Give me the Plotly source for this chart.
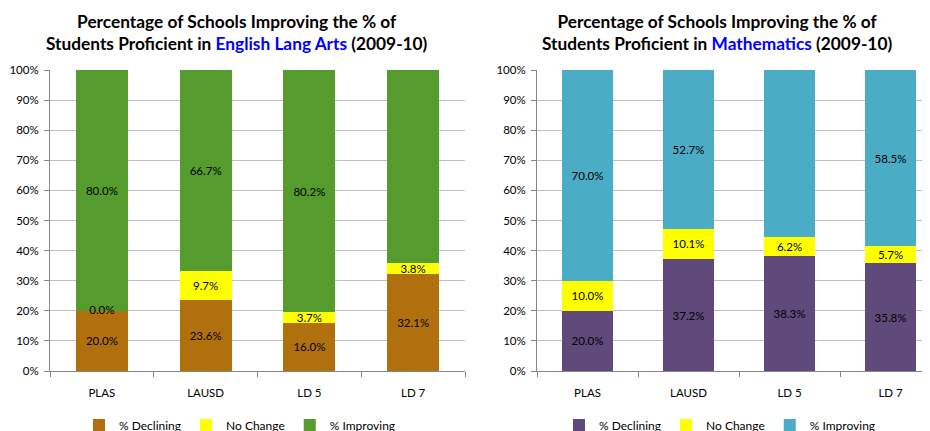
import plotly.graph_objects as go

categories = ["PLAS", "LAUSD", "LD 5", "LD 7"]
series_names = ["% Declining", "No Change", "% Improving"]

ela_declining = [20.0, 23.6, 16.0, 32.1]
ela_nochange = [0.0, 9.7, 3.7, 3.8]
ela_improving = [80.0, 66.7, 80.2, 64.2]

math_declining = [20.0, 37.2, 38.3, 35.8]
math_nochange = [10.0, 10.1, 6.2, 5.7]
math_improving = [70.0, 52.7, 55.6, 58.5]

ela_colors = ["#B0700E", "#FFFF00", "#559B2D"]
math_colors = ["#604A7B", "#FFFF00", "#4BACC6"]

FONT = "Lato"
LABEL_FONT = dict(family=FONT, size=11.5, color="#000000")

fig = go.Figure()

def add_series(vals, name, color, xa, ya, legend):
    fig.add_trace(go.Bar(
        x=categories, y=vals, name=name, marker=dict(color=color, line=dict(width=0)),
        xaxis=xa, yaxis=ya, legend=legend, width=0.5,
        text=[f"{v:.1f}%" for v in vals], textposition="inside",
        insidetextanchor="middle", constraintext="none", textangle=0,
        textfont=LABEL_FONT, cliponaxis=False, hoverinfo="skip",
    ))

def add_zero_labels(base, vals, xa, ya):
    # zero-height segments get no inside text from plotly; label them explicitly
    xs = [c for c, v in zip(categories, vals) if v == 0]
    ys = [b + v / 2 for b, v in zip(base, vals) if v == 0]
    if xs:
        fig.add_trace(go.Scatter(
            x=xs, y=ys, mode="text", text=[f"{0:.1f}%" for _ in xs], textposition="middle center",
            textfont=LABEL_FONT, xaxis=xa, yaxis=ya, showlegend=False, hoverinfo="skip",
            cliponaxis=False,
        ))

for vals, name, col in zip([ela_declining, ela_nochange, ela_improving], series_names, ela_colors):
    add_series(vals, name, col, "x", "y", "legend")
for vals, name, col in zip([math_declining, math_nochange, math_improving], series_names, math_colors):
    add_series(vals, name, col, "x2", "y2", "legend2")
add_zero_labels(ela_declining, ela_nochange, "x", "y")
add_zero_labels(math_declining, math_nochange, "x2", "y2")

# page has an 8px body margin; positions below are in figure pixels
OFF = 8
H = 431.0
W = 930.0
ydom = [(H - (371 - OFF)) / H, (H - (70 - OFF)) / H]

axis_common_y = dict(
    range=[0, 100], dtick=10, ticksuffix="%", showgrid=True, gridcolor="#BFBFBF", gridwidth=1,
    showline=True, linecolor="#868686", linewidth=1, ticks="outside", ticklen=5, tickcolor="#868686",
    tickfont=dict(family=FONT, size=11.5, color="#000000"), zeroline=False, domain=ydom,
    fixedrange=True, automargin=False, ticklabelstandoff=3,
)
axis_common_x = dict(
    type="category", showline=True, linecolor="#868686", linewidth=1, ticks="outside",
    ticklen=5, tickcolor="#868686", tickson="boundaries", showgrid=False, automargin=False,
    tickfont=dict(family=FONT, size=11.5, color="#000000"), ticklabelstandoff=11,
)

legend_common = dict(orientation="h", xanchor="center", y=(H - (425 - OFF)) / H, yanchor="middle",
                     font=dict(family=FONT, size=12), bgcolor="rgba(0,0,0,0)", itemwidth=30,
                     traceorder="normal")

fig.update_layout(
    width=930, height=431, margin=dict(l=0, r=0, t=0, b=0, autoexpand=False),
    paper_bgcolor="white", plot_bgcolor="white", barmode="stack", bargap=0.5,
    font=dict(family=FONT, size=11.5, color="#000000"),
    xaxis=dict(axis_common_x, domain=[(50 - OFF) / W, (465 - OFF) / W], range=[-0.5, 3.5], anchor="y"),
    yaxis=dict(axis_common_y, anchor="x"),
    xaxis2=dict(axis_common_x, domain=[(537 - OFF) / W, 1.0], range=[-0.5, 3.47], anchor="y2"),
    yaxis2=dict(axis_common_y, anchor="x2"),
    legend=dict(legend_common, x=(240 - OFF) / W),
    legend2=dict(legend_common, x=(720 - OFF) / W),
    showlegend=True,
)

fig.add_annotation(
    text="<b>Percentage of Schools Improving the % of<br>Students Proficient in "
         "<span style='color:#0000FF'>English Lang Arts</span> (2009-10)</b>",
    x=(237 - OFF) / W, y=(H - (32 - OFF)) / H, xref="paper", yref="paper", xanchor="center",
    yanchor="middle", showarrow=False, font=dict(family=FONT, size=17.3, color="#000000"),
    align="center",
)
fig.add_annotation(
    text="<b>Percentage of Schools Improving the % of<br>Students Proficient in "
         "<span style='color:#0000FF'>Mathematics</span> (2009-10)</b>",
    x=(717 - OFF) / W, y=(H - (32 - OFF)) / H, xref="paper", yref="paper", xanchor="center",
    yanchor="middle", showarrow=False, font=dict(family=FONT, size=17.3, color="#000000"),
    align="center",
)

fig.write_html("out.html")
